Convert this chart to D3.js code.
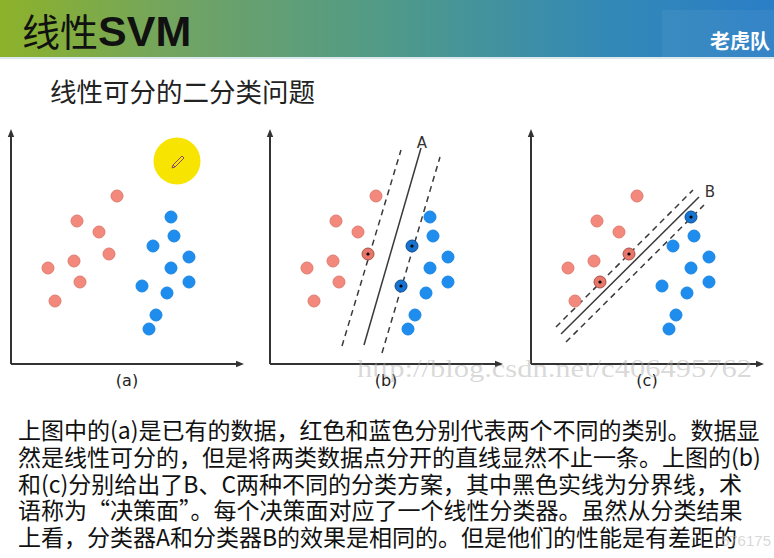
<!DOCTYPE html>
<html><head><meta charset="utf-8">
<script src="https://cdn.jsdelivr.net/npm/d3@7/dist/d3.min.js"></script>
<style>html,body{margin:0;padding:0;background:#fff;overflow:hidden}</style>
</head><body>
<script>
// ---- data (units: distance from each panel's axis origin) ----
const panelLabels = ["(a)", "(b)", "(c)"];
const redX  = [106, 66, 88, 98, 63, 37, 69, 44];
const redY  = [168, 143, 132, 110, 103, 96, 82, 63];
const blueX = [160, 163, 142, 178, 160, 178, 131, 156, 145, 138];
const blueY = [147, 128, 118, 107, 96, 82, 78, 71, 49, 35];
// decision lines: [x1, y1, x2, y2]
const lineA_solid = [94, 19, 151, 216];
const lineA_dashL = [72, 18, 131, 214];
const lineA_dashR = [112, 11, 170, 207];
const lineB_solid = [30, 30, 168, 167];
const lineB_dashU = [25, 37, 162, 174];
const lineB_dashL = [35, 22, 173, 159];
const labelA = [152, 222];
const labelB = [179, 173];
const svRedB = [3], svBlueB = [2, 6];
const svRedC = [3, 6], svBlueC = [0];
const bodyLines = [
  "上图中的(a)是已有的数据，红色和蓝色分别代表两个不同的类别。数据显",
  "然是线性可分的，但是将两类数据点分开的直线显然不止一条。上图的(b)",
  "和(c)分别给出了B、C两种不同的分类方案，其中黑色实线为分界线，术",
  "语称为“决策面”。每个决策面对应了一个线性分类器。虽然从分类结果",
  "上看，分类器A和分类器B的效果是相同的。但是他们的性能是有差距的"
];

const W = 774, H = 558;
const svg = d3.select("body").append("svg").attr("width", W).attr("height", H);
const defs = svg.append("defs");
const grad = defs.append("linearGradient").attr("id", "hdr").attr("x1", 0).attr("x2", 1).attr("y1", 0).attr("y2", 0);
[[0, "#8db22a"], [0.25, "#6fa366"], [0.5, "#509a88"], [0.78, "#3389b6"], [1, "#2a7ec6"]]
  .forEach(([o, c]) => grad.append("stop").attr("offset", o).attr("stop-color", c));
defs.append("marker").attr("id", "arr").attr("viewBox", "0 0 10 10").attr("refX", 5).attr("refY", 5)
  .attr("markerWidth", 4).attr("markerHeight", 4).attr("orient", "auto")
  .append("path").attr("d", "M0,1 L10,5 L0,9 Z").attr("fill", "#333");

// header
svg.append("rect").attr("x", 0).attr("y", 0).attr("width", W).attr("height", 57).attr("fill", "url(#hdr)");
svg.append("rect").attr("x", 662).attr("y", 10).attr("width", 112).attr("height", 47).attr("fill", "rgba(255,255,255,0.05)");
svg.append("rect").attr("x", 0).attr("y", 57).attr("width", W).attr("height", 2).attr("fill", "#dbe8ee");
const t = svg.append("text").attr("x", 22).attr("y", 46).attr("fill", "#111");
t.append("tspan").text("线性").attr("font-family", "Noto Sans CJK SC").attr("font-size", 38);
t.append("tspan").text("SVM").attr("font-family", "Liberation Sans").attr("font-weight", "bold").attr("font-size", 43);
svg.append("text").attr("x", 770).attr("y", 49).attr("text-anchor", "end").attr("fill", "#fff")
  .attr("font-family", "Noto Sans CJK SC").attr("font-weight", "bold").attr("font-size", 20).text("老虎队");

svg.append("text").attr("x", 50).attr("y", 102).attr("fill", "#222")
  .attr("font-family", "Noto Sans CJK SC").attr("font-size", 26.5).text("线性可分的二分类问题");

// panels
const origins = [11, 270, 531];
const y0 = 364;
origins.forEach((ox, i) => {
  const x = d3.scaleLinear().domain([0, 230]).range([ox, ox + 230]);
  const y = d3.scaleLinear().domain([0, 231]).range([y0, y0 - 231]);
  const g = svg.append("g");
  const ax = g.append("g").attr("transform", `translate(0,${y0})`)
    .call(d3.axisBottom(x).tickValues([]).tickSizeOuter(0));
  const ay = g.append("g").attr("transform", `translate(${ox},0)`)
    .call(d3.axisLeft(y).tickValues([]).tickSizeOuter(0));
  [ax, ay].forEach(a => a.select(".domain").attr("stroke", "#333").attr("stroke-width", 2));
  ax.select(".domain").attr("d", `M${x(0)},0H${x(229)}`).attr("marker-end", "url(#arr)");
  ay.select(".domain").attr("d", `M0,${y(0)}V${y(231)}`).attr("marker-end", "url(#arr)");

  g.append("text").attr("x", x(116)).attr("y", y0 + 22).attr("text-anchor", "middle")
    .attr("font-family", "DejaVu Sans").attr("font-size", 16).attr("fill", "#222").text(panelLabels[i]);

  const svR = i === 1 ? svRedB : i === 2 ? svRedC : [];
  const svB = i === 1 ? svBlueB : i === 2 ? svBlueC : [];

  const drawLine = (L, dashed) => g.append("line")
    .attr("x1", x(L[0])).attr("y1", y(L[1])).attr("x2", x(L[2])).attr("y2", y(L[3]))
    .attr("stroke", "#3a3a3a").attr("stroke-width", 1.5)
    .attr("stroke-dasharray", dashed ? "6,4.5" : null);
  if (i === 1) {
    drawLine(lineA_solid, false); drawLine(lineA_dashL, true); drawLine(lineA_dashR, true);
    g.append("text").attr("x", x(labelA[0])).attr("y", y(labelA[1]) + 6).attr("text-anchor", "middle")
      .attr("font-family", "DejaVu Sans").attr("font-size", 15).attr("fill", "#333").text("A");
  }
  if (i === 2) {
    drawLine(lineB_solid, false); drawLine(lineB_dashU, true); drawLine(lineB_dashL, true);
    g.append("text").attr("x", x(labelB[0])).attr("y", y(labelB[1]) + 6).attr("text-anchor", "middle")
      .attr("font-family", "DejaVu Sans").attr("font-size", 15).attr("fill", "#333").text("B");
  }

  const red = redX.map((v, k) => ({x: v, y: redY[k], sv: svR.includes(k)}));
  const blue = blueX.map((v, k) => ({x: v, y: blueY[k], sv: svB.includes(k)}));
  g.selectAll(".r").data(red).join("circle").attr("cx", d => x(d.x)).attr("cy", d => y(d.y)).attr("r", 6)
    .attr("fill", d => d.sv ? "#e8766b" : "#f3897d").attr("stroke", d => d.sv ? "#a85248" : "#e07b70").attr("stroke-width", 1);
  g.selectAll(".b").data(blue).join("circle").attr("cx", d => x(d.x)).attr("cy", d => y(d.y)).attr("r", 6)
    .attr("fill", d => d.sv ? "#1673cf" : "#1e8ded").attr("stroke", d => d.sv ? "#0d4f94" : "#1a86e4").attr("stroke-width", 1);
  g.selectAll(".c").data(red.concat(blue).filter(d => d.sv)).join("circle")
    .attr("cx", d => x(d.x)).attr("cy", d => y(d.y)).attr("r", 1.6).attr("fill", "#000");

  if (i === 0) {
    const cx = x(166), cy = y(203);
    g.append("circle").attr("cx", cx).attr("cy", cy).attr("r", 23.5).attr("fill", "#f7e400");
    g.append("path").attr("d", `M${cx-4},${cy+4} L${cx+5},${cy-5} L${cx+7},${cy-3} L${cx-2},${cy+6} Z M${cx-4},${cy+4} L${cx-5},${cy+7} L${cx-2},${cy+6}`)
      .attr("fill", "none").attr("stroke", "#8a4a6a").attr("stroke-width", 1);
  }
});

// watermark over panels
svg.append("text").attr("x", 357).attr("y", 377).attr("textLength", 395).attr("lengthAdjust", "spacingAndGlyphs")
  .attr("font-family", "Liberation Serif").attr("font-size", 25).attr("fill", "rgba(170,170,170,0.45)")
  .text("http://blog.csdn.net/c406495762");

// body text
svg.selectAll(".body").data(bodyLines).join("text")
  .attr("x", 18).attr("y", (d, k) => 439 + k * 26.8)
  .attr("font-family", "Noto Sans CJK SC").attr("font-size", 23).attr("fill", "#111").text(d => d);

svg.append("text").attr("x", 771).attr("y", 546).attr("text-anchor", "end")
  .attr("font-family", "Liberation Sans").attr("font-size", 15).attr("fill", "rgba(190,190,190,0.6)")
  .text("576175");
</script>
</body></html>
